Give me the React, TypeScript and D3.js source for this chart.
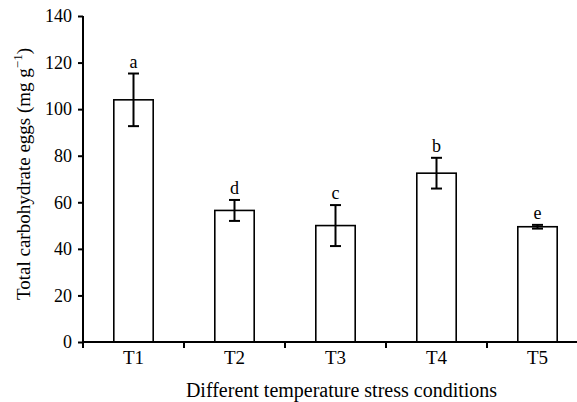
import React, { useEffect, useRef } from "react";
import * as d3 from "d3";

const treatments = ["T1", "T2", "T3", "T4", "T5"];
const means = [104, 56.5, 50, 72.5, 49.5];
const errors = [11.3, 4.5, 8.8, 6.6, 0.8];
const letters = ["a", "d", "c", "b", "e"];
const yTicks = [0, 20, 40, 60, 80, 100, 120, 140];

const App = () => {
  const ref = useRef<SVGSVGElement>(null);

  useEffect(() => {
    const svg = d3.select(ref.current);
    svg.selectAll("*").remove();

    const font = "'Liberation Serif', 'Times New Roman', serif";
    const left = 83;
    const right = 588;
    const top = 16;
    const bottom = 342;

    const x = d3.scaleBand().domain(treatments).range([left, right]).padding(0);
    const y = d3.scaleLinear().domain([0, 140]).range([bottom, top]);
    const barW = x.bandwidth() * 0.39;

    const g = svg.append("g");

    // bars
    g.selectAll("rect.bar")
      .data(treatments)
      .enter()
      .append("rect")
      .attr("class", "bar")
      .attr("x", (d) => x(d)! + x.bandwidth() / 2 - barW / 2)
      .attr("y", (d, i) => y(means[i]))
      .attr("width", barW)
      .attr("height", (d, i) => y(0) - y(means[i]))
      .attr("fill", "#fff")
      .attr("stroke", "#000")
      .attr("stroke-width", 1.6);

    // error bars + significance letters
    const cx = (d: string) => x(d)! + x.bandwidth() / 2;
    const cap = 5.5;
    treatments.forEach((d, i) => {
      const hi = y(means[i] + errors[i]);
      const lo = y(means[i] - errors[i]);
      const eb = g.append("g").attr("stroke", "#000").attr("stroke-width", 2);
      eb.append("line").attr("x1", cx(d)).attr("x2", cx(d)).attr("y1", hi).attr("y2", lo);
      eb.append("line").attr("x1", cx(d) - cap).attr("x2", cx(d) + cap).attr("y1", hi).attr("y2", hi);
      eb.append("line").attr("x1", cx(d) - cap).attr("x2", cx(d) + cap).attr("y1", lo).attr("y2", lo);
      g.append("text")
        .attr("x", cx(d))
        .attr("y", hi - 6)
        .attr("text-anchor", "middle")
        .attr("font-family", font)
        .attr("font-size", 18)
        .text(letters[i]);
    });

    // y axis
    const yAxis = g
      .append("g")
      .attr("transform", `translate(${left},0)`)
      .call(d3.axisLeft(y).tickValues(yTicks).tickSize(5).tickPadding(6));
    yAxis.select(".domain").remove();
    yAxis.selectAll("line").attr("stroke-width", 2);
    yAxis.selectAll("text").attr("font-family", font).attr("font-size", 18).attr("fill", "#000");
    g.append("line")
      .attr("x1", left)
      .attr("x2", left)
      .attr("y1", top)
      .attr("y2", bottom + 6)
      .attr("stroke", "#000")
      .attr("stroke-width", 2);

    // x axis
    const xAxis = g
      .append("g")
      .attr("transform", `translate(0,${bottom})`)
      .call(d3.axisBottom(x).tickSize(0).tickPadding(9));
    xAxis.select(".domain").remove();
    xAxis.selectAll("text").attr("font-family", font).attr("font-size", 19).attr("fill", "#000");
    g.append("line")
      .attr("x1", left)
      .attr("x2", right)
      .attr("y1", bottom)
      .attr("y2", bottom)
      .attr("stroke", "#000")
      .attr("stroke-width", 2);
    g.selectAll("line.sep")
      .data(treatments.slice(1))
      .enter()
      .append("line")
      .attr("class", "sep")
      .attr("x1", (d) => x(d)!)
      .attr("x2", (d) => x(d)!)
      .attr("y1", bottom)
      .attr("y2", bottom + 6)
      .attr("stroke", "#000")
      .attr("stroke-width", 2);

    // titles
    g.append("text")
      .attr("x", 341.5)
      .attr("y", 397)
      .attr("text-anchor", "middle")
      .attr("font-family", font)
      .attr("font-size", 20)
      .text("Different temperature stress conditions");

    const yt = g
      .append("text")
      .attr("transform", `translate(30,174) rotate(-90)`)
      .attr("text-anchor", "middle")
      .attr("font-family", font)
      .attr("font-size", 19);
    yt.append("tspan").text("Total carbohydrate eggs (mg g");
    yt.append("tspan").attr("font-size", 13).attr("dy", -8).text("\u22121");
    yt.append("tspan").attr("dy", 8).text(")");
  }, []);

  return (
    <svg
      ref={ref}
      width={577}
      height={402}
      style={{ position: "absolute", left: 0, top: 0, background: "#fff" }}
    />
  );
};

export default App;
